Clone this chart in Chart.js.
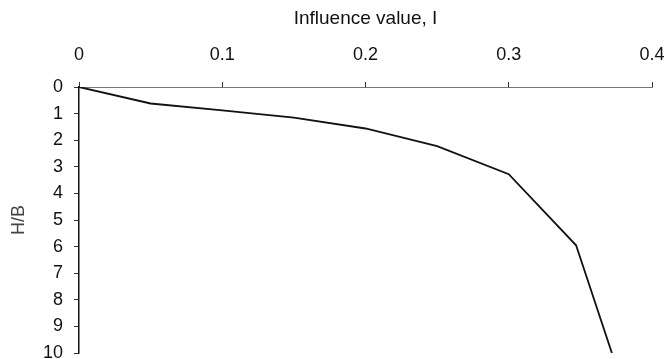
<!DOCTYPE html>
<html>
<head>
<meta charset="utf-8">
<script src="https://cdn.jsdelivr.net/npm/chart.js@4/dist/chart.umd.min.js"></script>
<style>
  html, body { margin: 0; padding: 0; background: #fff; overflow: hidden; }
  #wrap { width: 669px; height: 359px; position: relative; }
</style>
</head>
<body>
<div id="wrap"><canvas id="influence-graph"></canvas></div>
<script>
// influence value I against depth ratio H/B
var influenceValues = [0, 0.05, 0.1, 0.15, 0.2, 0.25, 0.3, 0.347, 0.372];
var depthRatios = [0, 0.62, 0.88, 1.15, 1.56, 2.22, 3.28, 5.95, 10];

var xTitle = "Influence value, I";
var yTitle = "H/B";

var points = [];
for (let i = 0; i < influenceValues.length; i++) {
    points.push({ x: influenceValues[i], y: depthRatios[i] });
}

var font = "'Liberation Sans', Arial, sans-serif";

var influenceChart = new Chart(document.getElementById("influence-graph"), {
    type: "scatter",
    data: {
        datasets: [{
            data: points,
            showLine: true,
            borderColor: "#111",
            borderWidth: 1.8,
            pointRadius: 0,
            tension: 0
        }]
    },
    options: {
        responsive: true,
        maintainAspectRatio: false,
        animation: false,
        layout: { padding: { left: 0, top: 0, right: 17, bottom: 6 } },
        plugins: {
            legend: { display: false },
            tooltip: { enabled: false }
        },
        scales: {
            x: {
                type: "linear",
                position: "top",
                min: 0,
                max: 0.4,
                afterFit: function (scale) {
                    scale.height = 87;
                    scale.paddingLeft = 0;
                    scale.paddingRight = 0;
                },
                border: { color: "#777", width: 1 },
                grid: { display: true, drawOnChartArea: false, tickLength: 5, color: "#333" },
                ticks: {
                    stepSize: 0.1,
                    padding: 16,
                    color: "#111",
                    font: { family: font, size: 18 },
                    callback: function (v) { return Math.round(v * 10) / 10; }
                },
                title: {
                    display: true,
                    text: xTitle,
                    color: "#111",
                    font: { family: font, size: 19 },
                    padding: { top: 7, bottom: 0 }
                }
            },
            y: {
                type: "linear",
                reverse: true,
                min: 0,
                max: 10,
                afterFit: function (scale) {
                    scale.width = 79;
                    scale.paddingTop = 0;
                    scale.paddingBottom = 0;
                },
                border: { color: "#111", width: 1.5 },
                grid: { display: true, drawOnChartArea: false, tickLength: 5, color: "#333" },
                ticks: {
                    stepSize: 1,
                    padding: 11,
                    color: "#111",
                    font: { family: font, size: 18 }
                },
                title: {
                    display: true,
                    text: yTitle,
                    color: "#444",
                    font: { family: font, size: 18 },
                    padding: { top: 8, bottom: 4 }
                }
            }
        }
    }
});
</script>
</body>
</html>
